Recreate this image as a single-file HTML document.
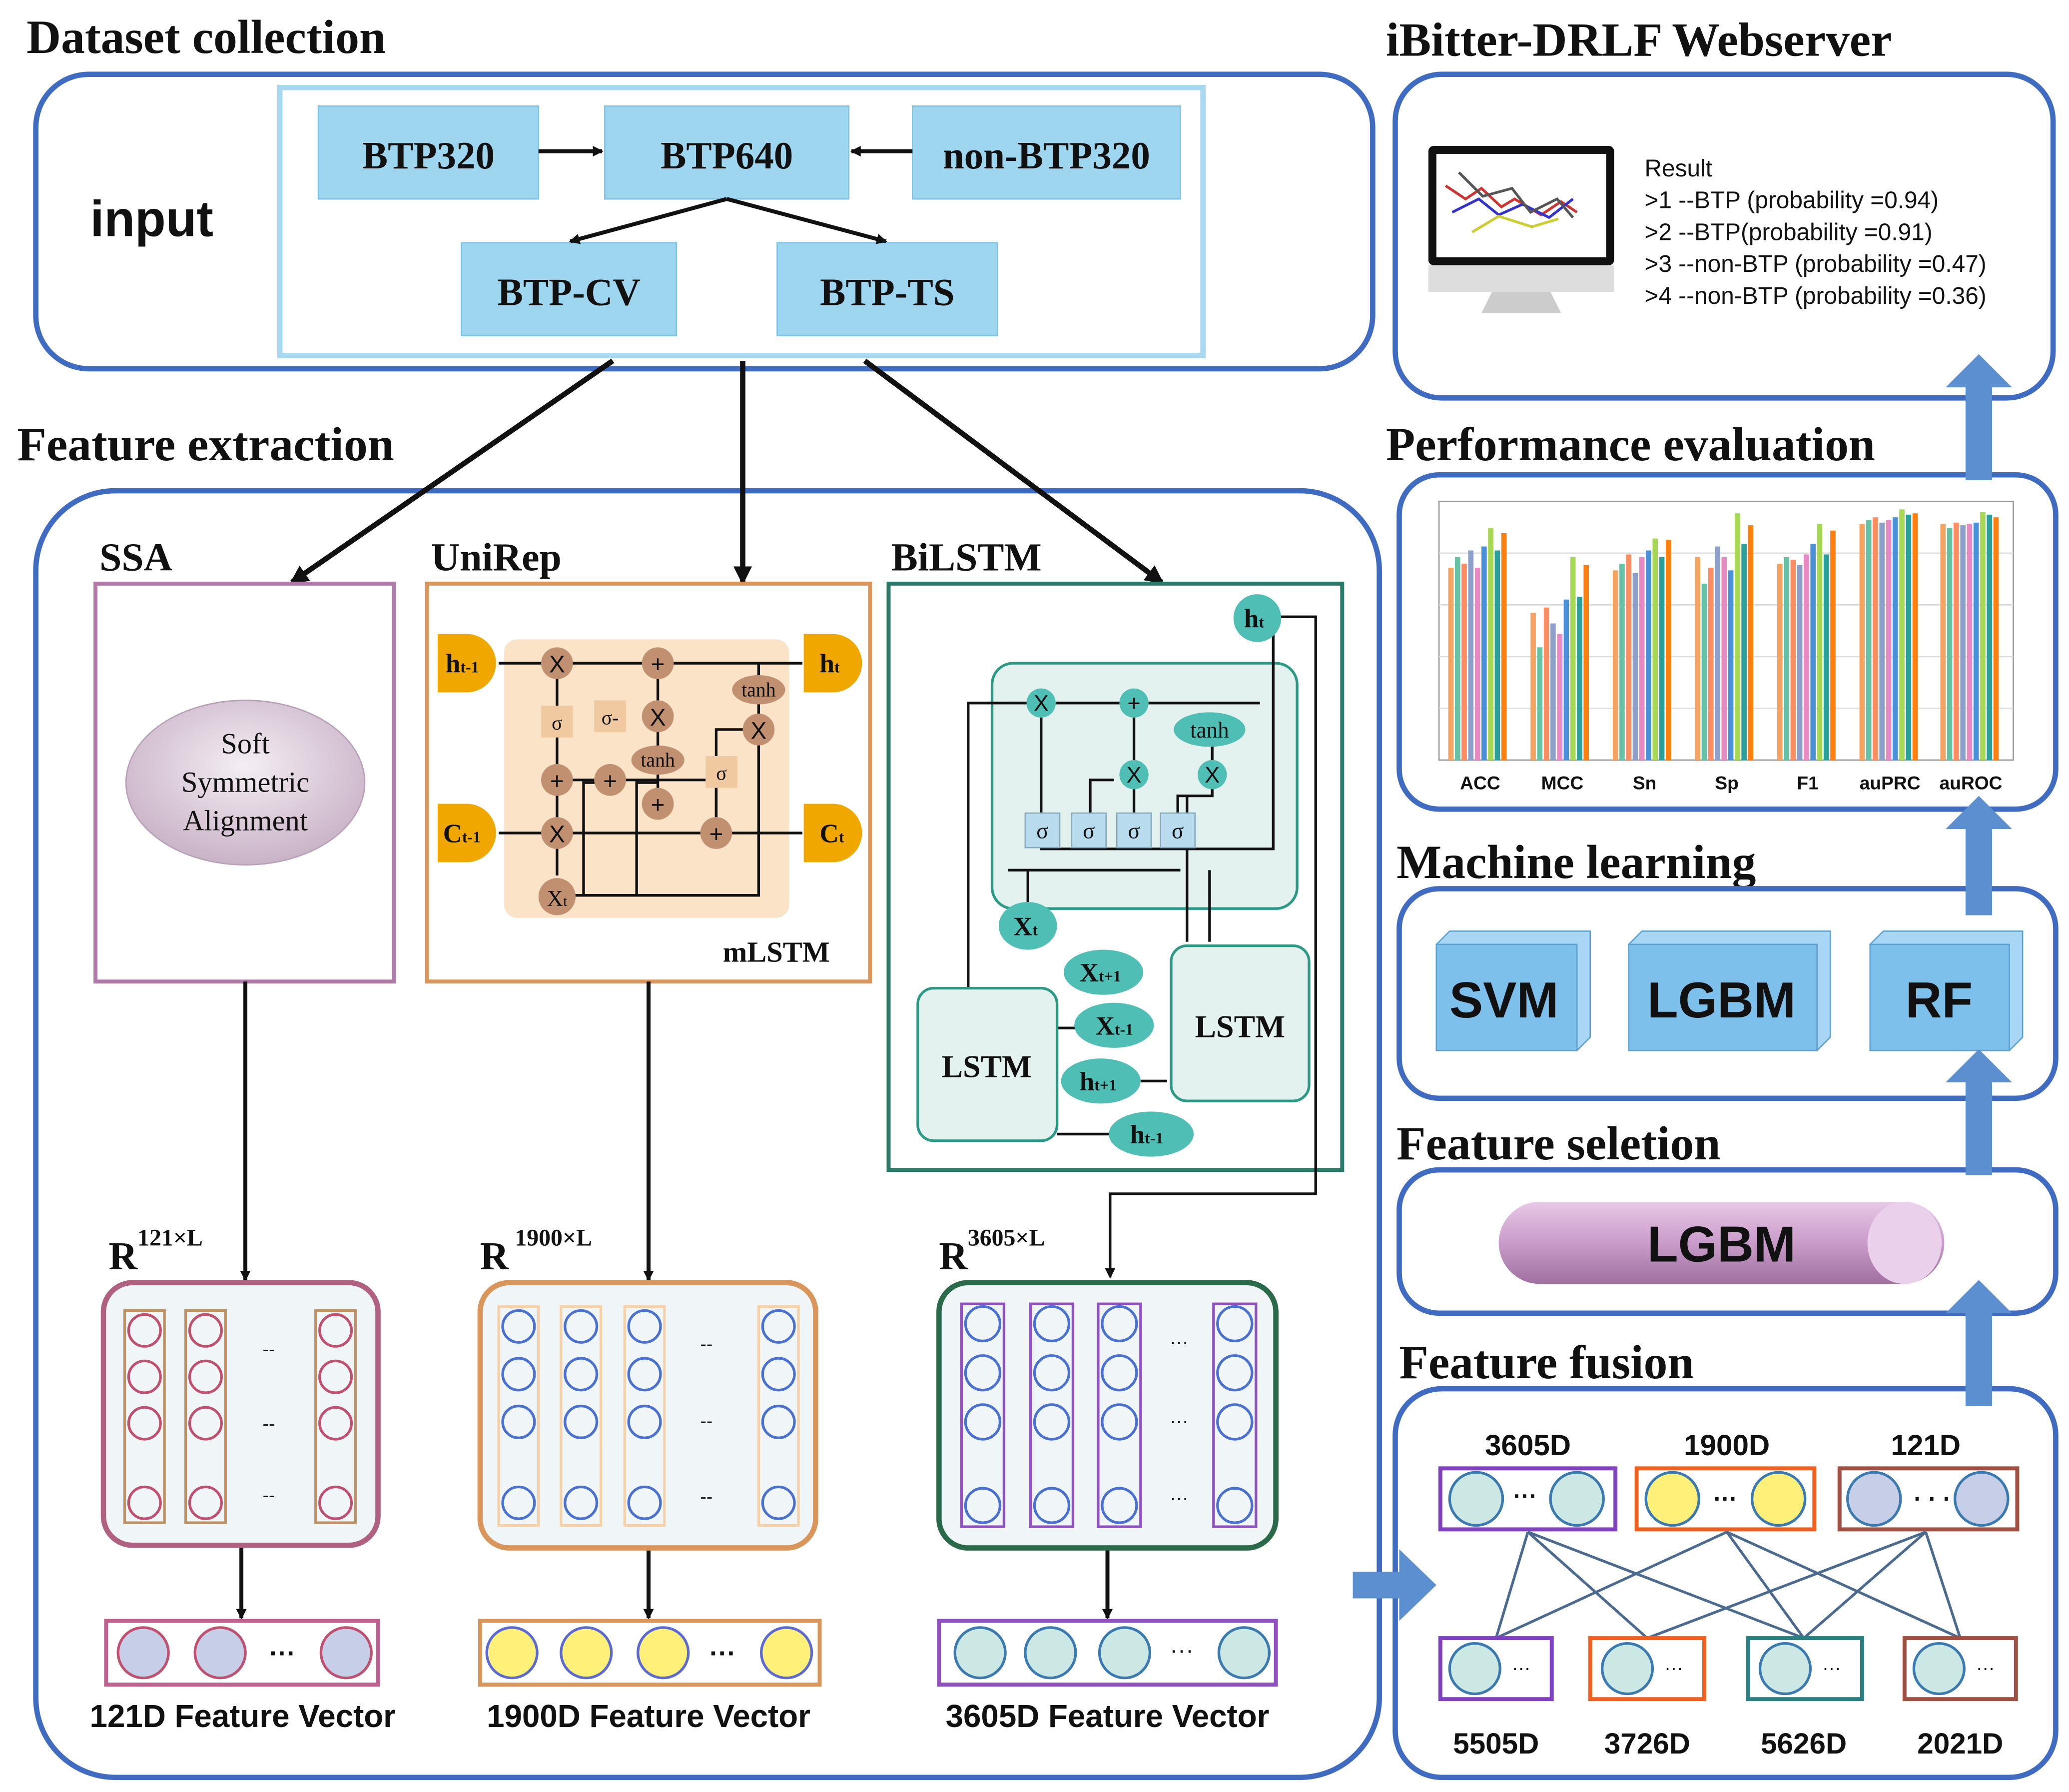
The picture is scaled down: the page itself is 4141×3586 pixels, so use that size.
<!DOCTYPE html>
<html><head><meta charset="utf-8"><style>html,body{margin:0;padding:0;background:#fff}svg{display:block}</style></head><body>
<svg xmlns="http://www.w3.org/2000/svg" width="4141" height="3586" viewBox="0 0 1560 1351" preserveAspectRatio="none">
<defs>
<marker id="ah" markerWidth="8" markerHeight="8" refX="7" refY="4" orient="auto" markerUnits="userSpaceOnUse"><path d="M0,0 L8,4 L0,8 z" fill="#111"/></marker>
<marker id="ahs" markerWidth="14" markerHeight="14" refX="12" refY="7" orient="auto" markerUnits="userSpaceOnUse"><path d="M0,0 L14,7 L0,14 z" fill="#111"/></marker>
<radialGradient id="ell" cx="50%" cy="40%" r="60%"><stop offset="0" stop-color="#f4eef4"/><stop offset="1" stop-color="#c9b2c6"/></radialGradient>
<linearGradient id="cyl" x1="0" y1="0" x2="0" y2="1"><stop offset="0" stop-color="#e8c8e8"/><stop offset="0.5" stop-color="#c99cc9"/><stop offset="1" stop-color="#a070a0"/></linearGradient>
</defs>
<style>
text{font-family:"Liberation Serif",serif;fill:#111}
text.s,.s text{font-family:"Liberation Sans",sans-serif}
.t{font-size:36px;font-weight:bold}
.bx{fill:#9fd6ef;stroke:#7cc3e6;stroke-width:1}
.bl{font-size:29px;font-weight:bold;text-anchor:middle}
.big{fill:none;stroke:#3f6cc0;stroke-width:4}
.ln{stroke:#111;stroke-width:3;fill:none}
.tn{stroke:#111;stroke-width:2;fill:none}
</style>

<text x="20" y="40" class="t">Dataset collection</text>
<rect x="27" y="56" width="1008" height="222" rx="40" class="big"/>
<rect x="211" y="66" width="696" height="202" fill="none" stroke="#a8d8f0" stroke-width="4"/>
<text x="68" y="178" class="s" style="font-size:38px;font-weight:bold">input</text>
<rect x="240" y="80" width="166" height="70" class="bx"/><text x="323" y="127" class="bl">BTP320</text>
<rect x="456" y="80" width="184" height="70" class="bx"/><text x="548" y="127" class="bl">BTP640</text>
<rect x="688" y="80" width="202" height="70" class="bx"/><text x="789" y="127" class="bl">non-BTP320</text>
<rect x="348" y="183" width="162" height="70" class="bx"/><text x="429" y="230" class="bl">BTP-CV</text>
<rect x="586" y="183" width="166" height="70" class="bx"/><text x="669" y="230" class="bl">BTP-TS</text>
<line x1="406" y1="114" x2="454" y2="114" class="ln" marker-end="url(#ah)"/>
<line x1="688" y1="114" x2="642" y2="114" class="ln" marker-end="url(#ah)"/>
<line x1="548" y1="150" x2="430" y2="182" class="ln" marker-end="url(#ah)"/>
<line x1="548" y1="150" x2="668" y2="182" class="ln" marker-end="url(#ah)"/>

<text x="13" y="347" class="t">Feature extraction</text>
<rect x="27" y="370" width="1013" height="970" rx="60" class="big"/>
<line x1="462" y1="272" x2="220" y2="439" class="ln" style="stroke-width:4" marker-end="url(#ahs)"/>
<line x1="560" y1="272" x2="560" y2="439" class="ln" style="stroke-width:4" marker-end="url(#ahs)"/>
<line x1="652" y1="272" x2="876" y2="439" class="ln" style="stroke-width:4" marker-end="url(#ahs)"/>

<text x="75" y="430" style="font-size:30px;font-weight:bold">SSA</text>
<rect x="72" y="440" width="225" height="300" fill="none" stroke="#b07aa8" stroke-width="3"/>
<ellipse cx="185" cy="590" rx="90" ry="62" fill="url(#ell)" stroke="#b8a0b8"/>
<text x="185" y="568" style="font-size:22px;text-anchor:middle">Soft</text>
<text x="185" y="597" style="font-size:22px;text-anchor:middle">Symmetric</text>
<text x="185" y="626" style="font-size:22px;text-anchor:middle">Alignment</text>

<text x="325" y="430" style="font-size:30px;font-weight:bold">UniRep</text>
<rect x="322" y="440" width="334" height="300" fill="none" stroke="#d9955a" stroke-width="3"/>
<rect x="380" y="482" width="215" height="210" rx="10" fill="#fbe3c8"/>
<g class="tn">
<path d="M376,500 H605"/><path d="M376,628 H605"/><path d="M420,500 V628"/><path d="M420,660 V628"/><path d="M496,500 V610"/><path d="M540,628 V550 H572 V500"/><path d="M420,675 H572 V560"/><path d="M440,675 V590 H460"/><path d="M480,675 V590 H496"/><path d="M420,588 H540 V628"/>
</g>
<g fill="#c09070">
<circle cx="420" cy="500" r="12"/><circle cx="496" cy="500" r="12"/><circle cx="420" cy="588" r="12"/><circle cx="460" cy="588" r="12"/><circle cx="496" cy="540" r="12"/><circle cx="496" cy="606" r="12"/><circle cx="420" cy="628" r="12"/><circle cx="540" cy="628" r="12"/><circle cx="572" cy="550" r="12"/><circle cx="420" cy="676" r="14"/>
<ellipse cx="572" cy="520" rx="20" ry="11"/><ellipse cx="496" cy="573" rx="20" ry="11"/>
<rect x="408" y="532" width="24" height="24" fill="#f0c9a0"/><rect x="448" y="528" width="24" height="24" fill="#f0c9a0"/><rect x="532" y="570" width="24" height="24" fill="#f0c9a0"/>
</g>
<g style="font-size:18px;text-anchor:middle" class="s">
<text x="420" y="507">X</text><text x="496" y="507">+</text><text x="420" y="595">+</text><text x="460" y="595">+</text><text x="496" y="547">X</text><text x="496" y="613">+</text><text x="420" y="635">X</text><text x="540" y="635">+</text><text x="572" y="557">X</text>
</g>
<g style="font-size:15px;text-anchor:middle"><text x="572" y="525">tanh</text><text x="496" y="578">tanh</text><text x="420" y="550">σ</text><text x="460" y="546">σ-</text><text x="544" y="588">σ</text><text x="420" y="683" style="font-size:17px">X<tspan font-size="11">t</tspan></text></g>
<g fill="#f0a800"><path d="M330,478 h22 a22,22 0 0 1 0,44 h-22 z"/><path d="M330,606 h22 a22,22 0 0 1 0,44 h-22 z"/><path d="M606,478 h22 a22,22 0 0 1 0,44 h-22 z"/><path d="M606,606 h22 a22,22 0 0 1 0,44 h-22 z"/></g>
<g style="font-size:20px;font-weight:bold"><text x="336" y="507">h<tspan font-size="12">t-1</tspan></text><text x="334" y="635">C<tspan font-size="12">t-1</tspan></text><text x="618" y="507">h<tspan font-size="12">t</tspan></text><text x="618" y="635">C<tspan font-size="12">t</tspan></text></g>
<text x="545" y="725" style="font-size:22px;font-weight:bold">mLSTM</text>

<text x="672" y="430" style="font-size:30px;font-weight:bold">BiLSTM</text>
<rect x="670" y="440" width="342" height="442" fill="none" stroke="#2a7a6a" stroke-width="3"/>
<rect x="748" y="500" width="230" height="185" rx="16" fill="#e3f2ee" stroke="#2a9a85" stroke-width="2"/>
<g class="tn">
<path d="M760,530 H950"/><path d="M785,530 V640 H960 V465"/><path d="M855,530 V625"/><path d="M822,625 V588 H840"/><path d="M888,625 V600 H914 V560"/><path d="M760,656 H890"/><path d="M775,700 V656"/><path d="M730,745 V530 H780"/><path d="M797,775 H830"/><path d="M797,855 H840"/><path d="M880,815 H860"/><path d="M895,710 V600"/><path d="M912,710 V656"/>
</g>
<path d="M965,465 H992 V900 H837 V963" class="tn" marker-end="url(#ah)"/>
<g fill="#4fbfb5">
<circle cx="785" cy="530" r="11"/><circle cx="855" cy="530" r="11"/><circle cx="855" cy="584" r="11"/><circle cx="914" cy="584" r="11"/>
<ellipse cx="912" cy="550" rx="27" ry="13"/><circle cx="948" cy="466" r="18"/><ellipse cx="775" cy="698" rx="22" ry="18"/>
<ellipse cx="832" cy="733" rx="30" ry="17"/><ellipse cx="840" cy="773" rx="30" ry="17"/><ellipse cx="830" cy="815" rx="30" ry="17"/><ellipse cx="868" cy="855" rx="32" ry="17"/>
</g>
<g fill="#b8dced" stroke="#8ab"><rect x="773" y="613" width="26" height="26"/><rect x="808" y="613" width="26" height="26"/><rect x="842" y="613" width="26" height="26"/><rect x="875" y="613" width="26" height="26"/></g>
<g style="font-size:17px;text-anchor:middle"><text x="786" y="632">σ</text><text x="821" y="632">σ</text><text x="855" y="632">σ</text><text x="888" y="632">σ</text>
<text x="785" y="536" class="s">X</text><text x="855" y="536" class="s">+</text><text x="855" y="590" class="s">X</text><text x="914" y="590" class="s">X</text><text x="912" y="556">tanh</text></g>
<g style="font-size:20px;font-weight:bold"><text x="938" y="473">h<tspan font-size="12">t</tspan></text><text x="764" y="705">X<tspan font-size="12">t</tspan></text><text x="814" y="740">X<tspan font-size="12">t+1</tspan></text><text x="826" y="780">X<tspan font-size="12">t-1</tspan></text><text x="814" y="822">h<tspan font-size="12">t+1</tspan></text><text x="852" y="862">h<tspan font-size="12">t-1</tspan></text></g>
<rect x="692" y="745" width="105" height="115" rx="12" fill="#e3f2ee" stroke="#2a9a85" stroke-width="2"/>
<rect x="883" y="713" width="104" height="117" rx="12" fill="#e3f2ee" stroke="#2a9a85" stroke-width="2"/>
<text x="744" y="812" style="font-size:24px;font-weight:bold;text-anchor:middle">LSTM</text>
<text x="935" y="782" style="font-size:24px;font-weight:bold;text-anchor:middle">LSTM</text>

<line x1="185" y1="740" x2="185" y2="965" class="ln" marker-end="url(#ah)"/>
<line x1="489" y1="740" x2="489" y2="965" class="ln" marker-end="url(#ah)"/>
<line x1="182" y1="1165" x2="182" y2="1220" class="ln" marker-end="url(#ah)"/>
<line x1="489" y1="1167" x2="489" y2="1220" class="ln" marker-end="url(#ah)"/>
<line x1="835" y1="1167" x2="835" y2="1220" class="ln" marker-end="url(#ah)"/>

<g style="font-size:30px;font-weight:bold"><text x="82" y="957">R<tspan dy="-18" font-size="18">121×L</tspan></text><text x="362" y="957">R<tspan dy="-18" font-size="18"> 1900×L</tspan></text><text x="708" y="957">R<tspan dy="-18" font-size="18">3605×L</tspan></text></g>

<rect x="78" y="967" width="207" height="198" rx="22" fill="#f0f6f8" stroke="#b06080" stroke-width="4"/>
<rect x="362" y="967" width="253" height="200" rx="22" fill="#f0f6f8" stroke="#d9955a" stroke-width="4"/>
<rect x="708" y="967" width="254" height="200" rx="22" fill="#f0f6f8" stroke="#2a6a4a" stroke-width="4"/>
<g fill="none" stroke-width="2">
<g stroke="#c05070"><rect x="94" y="988" width="30" height="160" stroke="#c09060"/><rect x="140" y="988" width="30" height="160" stroke="#c09060"/><rect x="238" y="988" width="30" height="160" stroke="#c09060"/>
<circle cx="109" cy="1003" r="12"/><circle cx="109" cy="1038" r="12"/><circle cx="109" cy="1073" r="12"/><circle cx="109" cy="1133" r="12"/>
<circle cx="155" cy="1003" r="12"/><circle cx="155" cy="1038" r="12"/><circle cx="155" cy="1073" r="12"/><circle cx="155" cy="1133" r="12"/>
<circle cx="253" cy="1003" r="12"/><circle cx="253" cy="1038" r="12"/><circle cx="253" cy="1073" r="12"/><circle cx="253" cy="1133" r="12"/></g>
<g stroke="#4a70d0"><rect x="376" y="985" width="30" height="165" stroke="#f5d0a8"/><rect x="423" y="985" width="30" height="165" stroke="#f5d0a8"/><rect x="471" y="985" width="30" height="165" stroke="#f5d0a8"/><rect x="572" y="985" width="30" height="165" stroke="#f5d0a8"/>
<circle cx="391" cy="1000" r="12"/><circle cx="391" cy="1036" r="12"/><circle cx="391" cy="1072" r="12"/><circle cx="391" cy="1133" r="12"/>
<circle cx="438" cy="1000" r="12"/><circle cx="438" cy="1036" r="12"/><circle cx="438" cy="1072" r="12"/><circle cx="438" cy="1133" r="12"/>
<circle cx="486" cy="1000" r="12"/><circle cx="486" cy="1036" r="12"/><circle cx="486" cy="1072" r="12"/><circle cx="486" cy="1133" r="12"/>
<circle cx="587" cy="1000" r="12"/><circle cx="587" cy="1036" r="12"/><circle cx="587" cy="1072" r="12"/><circle cx="587" cy="1133" r="12"/></g>
<g stroke="#4a70d0"><rect x="725" y="983" width="32" height="168" stroke="#9050c0"/><rect x="777" y="983" width="32" height="168" stroke="#9050c0"/><rect x="828" y="983" width="32" height="168" stroke="#9050c0"/><rect x="915" y="983" width="32" height="168" stroke="#9050c0"/>
<circle cx="741" cy="998" r="13"/><circle cx="741" cy="1035" r="13"/><circle cx="741" cy="1072" r="13"/><circle cx="741" cy="1135" r="13"/>
<circle cx="793" cy="998" r="13"/><circle cx="793" cy="1035" r="13"/><circle cx="793" cy="1072" r="13"/><circle cx="793" cy="1135" r="13"/>
<circle cx="844" cy="998" r="13"/><circle cx="844" cy="1035" r="13"/><circle cx="844" cy="1072" r="13"/><circle cx="844" cy="1135" r="13"/>
<circle cx="931" cy="998" r="13"/><circle cx="931" cy="1035" r="13"/><circle cx="931" cy="1072" r="13"/><circle cx="931" cy="1135" r="13"/></g>
</g>
<g style="font-size:14px" class="s"><text x="198" y="1022">--</text><text x="198" y="1078">--</text><text x="198" y="1132">--</text><text x="528" y="1018">--</text><text x="528" y="1076">--</text><text x="528" y="1133">--</text><text x="882" y="1016">···</text><text x="882" y="1076">···</text><text x="882" y="1134">···</text></g>

<rect x="80" y="1222" width="205" height="48" fill="#fff" stroke="#c06090" stroke-width="3"/>
<g fill="#c7cfe8" stroke="#c05070" stroke-width="2"><circle cx="108" cy="1246" r="19"/><circle cx="166" cy="1246" r="19"/><circle cx="261" cy="1246" r="19"/></g>
<text x="203" y="1253" class="s" style="font-size:20px;font-weight:bold">···</text>
<rect x="362" y="1222" width="256" height="48" fill="#fff" stroke="#d9955a" stroke-width="3"/>
<g fill="#fff07a" stroke="#5a6ad0" stroke-width="2"><circle cx="386" cy="1246" r="19"/><circle cx="442" cy="1246" r="19"/><circle cx="500" cy="1246" r="19"/><circle cx="593" cy="1246" r="19"/></g>
<text x="535" y="1253" class="s" style="font-size:20px;font-weight:bold">···</text>
<rect x="708" y="1222" width="254" height="48" fill="#fff" stroke="#9050c0" stroke-width="3"/>
<g fill="#cbe8e4" stroke="#3a7ab0" stroke-width="2"><circle cx="739" cy="1246" r="19"/><circle cx="792" cy="1246" r="19"/><circle cx="848" cy="1246" r="19"/><circle cx="938" cy="1246" r="19"/></g>
<text x="882" y="1250" class="s" style="font-size:18px">···</text>
<g class="s" style="font-size:24px;font-weight:bold;text-anchor:middle"><text x="183" y="1302">121D Feature Vector</text><text x="489" y="1302">1900D Feature Vector</text><text x="835" y="1302">3605D Feature Vector</text></g>

<text x="1045" y="42" class="t">iBitter-DRLF Webserver</text>
<rect x="1052" y="56" width="496" height="244" rx="35" class="big"/>
<rect x="1077" y="110" width="140" height="90" rx="4" fill="#111"/>
<rect x="1083" y="116" width="128" height="78" fill="#fff"/>
<g stroke-width="2" fill="none"><path d="M1090,140 l15,10 l12,-8 l15,14 l10,-6 l20,12 l15,-10 l12,8" stroke="#c33"/><path d="M1095,160 l20,-10 l15,12 l18,-8 l20,10 l18,-14" stroke="#33c"/><path d="M1100,130 l18,18 l22,-6 l14,18 l20,-10 l12,14" stroke="#555"/><path d="M1110,175 l20,-12 l25,8 l20,-6" stroke="#cc3"/></g>
<path d="M1077,200 h140 v20 h-140 z" fill="#ddd"/><path d="M1125,220 h44 l8,16 h-60 z" fill="#ccc"/>
<g class="s" style="font-size:18px"><text x="1240" y="133">Result</text><text x="1240" y="157">&gt;1 --BTP (probability =0.94)</text><text x="1240" y="181">&gt;2 --BTP(probability =0.91)</text><text x="1240" y="205">&gt;3 --non-BTP (probability =0.47)</text><text x="1240" y="229">&gt;4 --non-BTP (probability =0.36)</text></g>

<text x="1045" y="347" class="t">Performance evaluation</text>
<rect x="1055" y="358" width="495" height="252" rx="30" class="big"/>
<rect x="1085" y="378" width="433" height="195" fill="#fff" stroke="#999" stroke-width="1"/>
<g stroke="#ddd"><line x1="1085" y1="417" x2="1518" y2="417"/><line x1="1085" y1="456" x2="1518" y2="456"/><line x1="1085" y1="495" x2="1518" y2="495"/><line x1="1085" y1="534" x2="1518" y2="534"/></g>
<g class="s" style="font-size:14px;font-weight:bold;text-anchor:middle"><text x="1116" y="595">ACC</text><text x="1178" y="595">MCC</text><text x="1240" y="595">Sn</text><text x="1302" y="595">Sp</text><text x="1363" y="595">F1</text><text x="1425" y="595">auPRC</text><text x="1486" y="595">auROC</text></g>

<text x="1053" y="662" class="t">Machine learning</text>
<rect x="1055" y="670" width="495" height="158" rx="30" class="big"/>
<g fill="#7ec0ec" stroke="#5aa0d0"><path d="M1083,712 l10,-10 h106 v80 l-10,10 z" fill="#a8d6f4"/><rect x="1083" y="712" width="106" height="80"/>
<path d="M1228,712 l10,-10 h142 v80 l-10,10 z" fill="#a8d6f4"/><rect x="1228" y="712" width="142" height="80"/>
<path d="M1410,712 l10,-10 h105 v80 l-10,10 z" fill="#a8d6f4"/><rect x="1410" y="712" width="105" height="80"/></g>
<g class="s" style="font-size:38px;font-weight:bold;text-anchor:middle"><text x="1134" y="767">SVM</text><text x="1298" y="767">LGBM</text><text x="1462" y="767">RF</text></g>

<text x="1053" y="874" class="t">Feature seletion</text>
<rect x="1055" y="882" width="495" height="108" rx="30" class="big"/>
<rect x="1130" y="906" width="336" height="62" rx="31" fill="url(#cyl)"/>
<ellipse cx="1436" cy="937" rx="28" ry="31" fill="#ead0ea"/>
<text x="1298" y="951" class="s" style="font-size:38px;font-weight:bold;text-anchor:middle">LGBM</text>

<text x="1055" y="1039" class="t">Feature fusion</text>
<rect x="1052" y="1047" width="498" height="293" rx="35" class="big"/>
<g class="s" style="font-size:22px;font-weight:bold;text-anchor:middle"><text x="1152" y="1097">3605D</text><text x="1302" y="1097">1900D</text><text x="1452" y="1097">121D</text>
<text x="1128" y="1322">5505D</text><text x="1242" y="1322">3726D</text><text x="1360" y="1322">5626D</text><text x="1478" y="1322">2021D</text></g>
<rect x="1086" y="1107" width="132" height="46" fill="#fff" stroke="#8040c0" stroke-width="3"/>
<rect x="1234" y="1107" width="134" height="46" fill="#fff" stroke="#f06020" stroke-width="3"/>
<rect x="1387" y="1107" width="134" height="46" fill="#fff" stroke="#a05040" stroke-width="3"/>
<g stroke="#3a7ab0" stroke-width="2"><circle cx="1113" cy="1130" r="20" fill="#cbe8e4"/><circle cx="1189" cy="1130" r="20" fill="#cbe8e4"/><circle cx="1261" cy="1130" r="20" fill="#fff07a"/><circle cx="1341" cy="1130" r="20" fill="#fff07a"/><circle cx="1413" cy="1130" r="20" fill="#c7cfe8"/><circle cx="1494" cy="1130" r="20" fill="#c7cfe8"/></g>
<g style="font-size:18px;font-weight:bold" class="s"><text x="1141" y="1134">···</text><text x="1292" y="1136">···</text><text x="1443" y="1136">· · ·</text></g>
<g stroke="#4a6a90" stroke-width="2"><line x1="1152" y1="1155" x2="1128" y2="1235"/><line x1="1152" y1="1155" x2="1242" y2="1235"/><line x1="1152" y1="1155" x2="1360" y2="1235"/><line x1="1302" y1="1155" x2="1128" y2="1235"/><line x1="1302" y1="1155" x2="1360" y2="1235"/><line x1="1302" y1="1155" x2="1478" y2="1235"/><line x1="1452" y1="1155" x2="1242" y2="1235"/><line x1="1452" y1="1155" x2="1360" y2="1235"/><line x1="1452" y1="1155" x2="1478" y2="1235"/></g>
<rect x="1086" y="1235" width="84" height="46" fill="#fff" stroke="#8040c0" stroke-width="3"/>
<rect x="1199" y="1235" width="86" height="46" fill="#fff" stroke="#f06020" stroke-width="3"/>
<rect x="1318" y="1235" width="86" height="46" fill="#fff" stroke="#2a8080" stroke-width="3"/>
<rect x="1436" y="1235" width="84" height="46" fill="#fff" stroke="#a05040" stroke-width="3"/>
<g fill="#cbe8e4" stroke="#3a7ab0" stroke-width="2"><circle cx="1112" cy="1258" r="19"/><circle cx="1227" cy="1258" r="19"/><circle cx="1346" cy="1258" r="19"/><circle cx="1462" cy="1258" r="19"/></g>
<g class="s" style="font-size:14px"><text x="1140" y="1262">···</text><text x="1255" y="1262">···</text><text x="1374" y="1262">···</text><text x="1490" y="1262">···</text></g>

<g fill="#5b8fd0">
<path d="M1020,1185 h35 v-17 l28,27 l-28,27 v-17 h-35 z"/>
<path d="M1482,1060 v-70 h-15 l25,-25 l25,25 h-15 v70 z"/>
<path d="M1482,886 v-70 h-15 l25,-25 l25,25 h-15 v70 z"/>
<path d="M1482,690 v-65 h-15 l25,-25 l25,25 h-15 v65 z"/>
<path d="M1482,362 v-70 h-15 l25,-25 l25,25 h-15 v70 z"/>
</g>

<g>
<g fill="#f4a460"><rect x="1092" y="428" width="4" height="145"/><rect x="1154" y="462" width="4" height="111"/><rect x="1216" y="430" width="4" height="143"/><rect x="1278" y="420" width="4" height="153"/><rect x="1340" y="425" width="4" height="148"/><rect x="1402" y="395" width="4" height="178"/><rect x="1463" y="395" width="4" height="178"/></g>
<g fill="#66c2a5"><rect x="1097" y="420" width="4" height="153"/><rect x="1159" y="488" width="4" height="85"/><rect x="1221" y="425" width="4" height="148"/><rect x="1283" y="440" width="4" height="133"/><rect x="1345" y="420" width="4" height="153"/><rect x="1407" y="392" width="4" height="181"/><rect x="1468" y="398" width="4" height="175"/></g>
<g fill="#fc8d62"><rect x="1102" y="425" width="4" height="148"/><rect x="1164" y="458" width="4" height="115"/><rect x="1226" y="418" width="4" height="155"/><rect x="1288" y="428" width="4" height="145"/><rect x="1350" y="422" width="4" height="151"/><rect x="1412" y="390" width="4" height="183"/><rect x="1473" y="394" width="4" height="179"/></g>
<g fill="#8da0cb"><rect x="1107" y="415" width="4" height="158"/><rect x="1169" y="470" width="4" height="103"/><rect x="1231" y="432" width="4" height="141"/><rect x="1293" y="412" width="4" height="161"/><rect x="1355" y="426" width="4" height="147"/><rect x="1417" y="394" width="4" height="179"/><rect x="1478" y="396" width="4" height="177"/></g>
<g fill="#e78ac3"><rect x="1112" y="428" width="4" height="145"/><rect x="1174" y="478" width="4" height="95"/><rect x="1236" y="420" width="4" height="153"/><rect x="1298" y="420" width="4" height="153"/><rect x="1360" y="418" width="4" height="155"/><rect x="1422" y="392" width="4" height="181"/><rect x="1483" y="395" width="4" height="178"/></g>
<g fill="#4a90d9"><rect x="1117" y="412" width="4" height="161"/><rect x="1179" y="452" width="4" height="121"/><rect x="1241" y="415" width="4" height="158"/><rect x="1303" y="430" width="4" height="143"/><rect x="1365" y="410" width="4" height="163"/><rect x="1427" y="390" width="4" height="183"/><rect x="1488" y="394" width="4" height="179"/></g>
<g fill="#a6d854"><rect x="1122" y="398" width="4" height="175"/><rect x="1184" y="420" width="4" height="153"/><rect x="1246" y="406" width="4" height="167"/><rect x="1308" y="387" width="4" height="186"/><rect x="1370" y="395" width="4" height="178"/><rect x="1432" y="384" width="4" height="189"/><rect x="1493" y="386" width="4" height="187"/></g>
<g fill="#2aa09a"><rect x="1127" y="415" width="4" height="158"/><rect x="1189" y="450" width="4" height="123"/><rect x="1251" y="420" width="4" height="153"/><rect x="1313" y="410" width="4" height="163"/><rect x="1375" y="418" width="4" height="155"/><rect x="1437" y="388" width="4" height="185"/><rect x="1498" y="388" width="4" height="185"/></g>
<g fill="#ff7f0e"><rect x="1132" y="402" width="4" height="171"/><rect x="1194" y="426" width="4" height="147"/><rect x="1256" y="407" width="4" height="166"/><rect x="1318" y="396" width="4" height="177"/><rect x="1380" y="400" width="4" height="173"/><rect x="1442" y="387" width="4" height="186"/><rect x="1503" y="390" width="4" height="183"/></g>
</g>
</svg>
</body></html>
